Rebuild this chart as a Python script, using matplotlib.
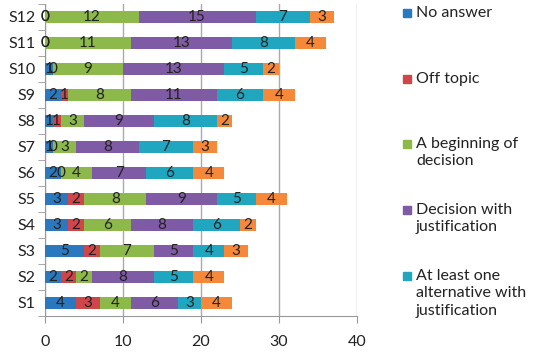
import matplotlib
matplotlib.use("Agg")
import matplotlib.pyplot as plt
from matplotlib.patches import Rectangle

plt.rcParams['font.family'] = ['Lato', 'DejaVu Sans']

students = ["S1", "S2", "S3", "S4", "S5", "S6", "S7", "S8", "S9", "S10", "S11", "S12"]

no_answer = [4, 2, 5, 3, 3, 2, 1, 1, 2, 1, 0, 0]
off_topic = [3, 2, 2, 2, 2, 0, 0, 1, 1, 0, 0, 0]
beginning = [4, 2, 7, 6, 8, 4, 3, 3, 8, 9, 11, 12]
decision_just = [6, 8, 5, 8, 9, 7, 8, 9, 11, 13, 13, 15]
one_alt = [3, 5, 4, 6, 5, 6, 7, 8, 6, 5, 8, 7]
several_alt = [4, 4, 3, 2, 4, 4, 3, 2, 4, 2, 4, 3]

series = [no_answer, off_topic, beginning, decision_just, one_alt, several_alt]
names = ["No answer", "Off topic", "A beginning of\ndecision",
         "Decision with\njustification",
         "At least one\nalternative with\njustification", None]
colors = ["#2A78BE", "#D0454A", "#8DB84A", "#7E5BA4", "#20A6BE", "#F6883A"]

fig = plt.figure(figsize=(5.5, 3.52), dpi=100)
ax = fig.add_axes([45 / 550, 1 - 316 / 352, 312 / 550, 312 / 352])

ypos = list(range(len(students)))
left = [0] * len(students)
for vals, col in zip(series, colors):
    ax.barh(ypos, vals, left=left, height=0.44, color=col, zorder=3)
    for y, l, v in zip(ypos, left, vals):
        ax.text(l + v / 2, y, str(v), ha="center", va="center",
                fontsize=11, color="#222222", zorder=4)
    left = [l + v for l, v in zip(left, vals)]

ax.set_xlim(0, 40)
ax.set_ylim(-0.5, len(students) - 0.5)
ax.set_xticks([0, 10, 20, 30, 40])
ax.set_yticks(ypos)
ax.set_yticklabels(students)
ax.set_yticks([i - 0.5 for i in range(len(students) + 1)], minor=True)
ax.tick_params(axis="y", which="major", length=0, pad=7, labelsize=11.5, colors="#222222")
ax.tick_params(axis="y", which="minor", length=5, color="#999999", direction="out")
ax.tick_params(axis="x", length=5, color="#999999", pad=9, labelsize=11.5, colors="#222222")
ax.grid(axis="x", color="#AAAAAA", linewidth=1, zorder=0)
for s in ["top", "right"]:
    ax.spines[s].set_visible(False)
for s in ["left", "bottom"]:
    ax.spines[s].set_color("#999999")

# legend (Excel-style, marker aligned with first line)
leg_y = [13, 79, 144, 210, 276]
for name, col, y in zip(names, colors, leg_y):
    if name is None:
        continue
    fig.add_artist(Rectangle((403 / 550, 1 - (y + 4) / 352), 8 / 550, 8 / 352,
                             color=col, transform=fig.transFigure))
    fig.text(416 / 550, 1 - (y - 7) / 352, name, ha="left", va="top",
             fontsize=11.5, color="#222222", linespacing=1.3)

fig.savefig("out.png", dpi=100)
